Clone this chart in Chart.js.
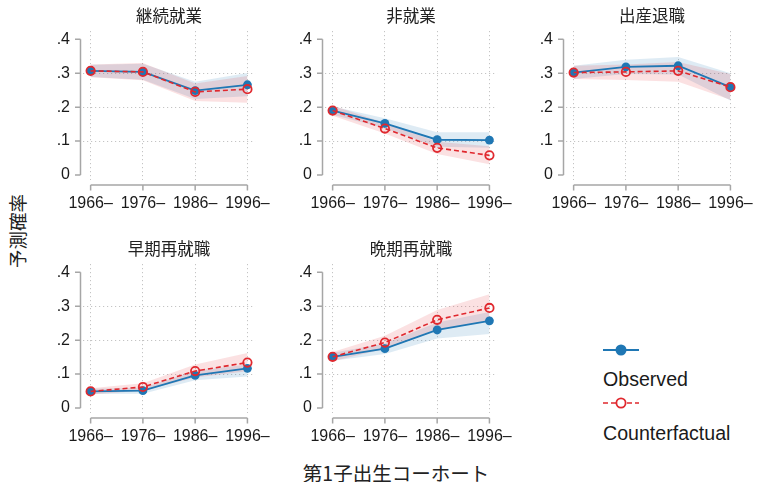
<!DOCTYPE html>
<html>
<head>
<meta charset="utf-8">
<script src="https://cdn.jsdelivr.net/npm/chart.js@4.4.1/dist/chart.umd.min.js"></script>
<style>
  html, body { margin: 0; padding: 0; background: #ffffff; }
  #wrap { position: relative; width: 762px; height: 482px; overflow: hidden; background: #fff; }
  .panel { position: absolute; }
  .ytitle {
    position: absolute; left: 17px; top: 231px;
    transform: translate(-50%, -50%) rotate(-90deg);
    font-family: "Noto Sans CJK JP", sans-serif; font-size: 18.5px; color: #222;
    white-space: nowrap;
  }
  .xtitle {
    position: absolute; left: 396px; top: 472px;
    transform: translate(-50%, -50%);
    font-family: "Noto Sans CJK JP", sans-serif; font-size: 19.5px; color: #222;
    white-space: nowrap;
  }
  .legtext {
    position: absolute; left: 603px;
    font-family: "Liberation Sans", Arial, sans-serif; font-size: 19.6px; color: #1a1a1a;
    white-space: nowrap; line-height: 1;
  }
  #legkeys { position: absolute; left: 0; top: 0; }
</style>
</head>
<body>
<div id="wrap">
  <div class="ytitle">予測確率</div>
  <div class="xtitle">第1子出生コーホート</div>
  <svg id="legkeys" width="762" height="482">
    <line x1="603" y1="350" x2="639" y2="350" stroke="#1f77b4" stroke-width="1.8"/>
    <circle cx="621" cy="350" r="5.5" fill="#1f77b4"/>
    <line x1="603" y1="403" x2="639" y2="403" stroke="#e0282e" stroke-width="1.6" stroke-dasharray="5,3"/>
    <circle cx="621" cy="403" r="4.6" fill="#ffffff" stroke="#e0282e" stroke-width="1.8"/>
  </svg>
  <div class="legtext" style="top:370px">Observed</div>
  <div class="legtext" style="top:424px">Counterfactual</div>
</div>
<script>
// Birth cohort of first child (x categories) and y tick labels
const cohorts = ['1966–', '1976–', '1986–', '1996–'];
const yTickValues = [0, 0.1, 0.2, 0.3, 0.4];
const yTickLabels = ['0', '.1', '.2', '.3', '.4'];

// Panel titles (employment trajectory types)
const panelTitles = ['継続就業', '非就業', '出産退職', '早期再就職', '晩期再就職'];

// Predicted probabilities: observed and counterfactual, with confidence bands
const obsMid = [
  [0.307, 0.304, 0.249, 0.266],
  [0.190, 0.152, 0.104, 0.103],
  [0.302, 0.319, 0.322, 0.259],
  [0.049, 0.051, 0.096, 0.117],
  [0.151, 0.175, 0.230, 0.257]
];
const obsHi = [
  [0.325, 0.328, 0.275, 0.301],
  [0.202, 0.167, 0.126, 0.126],
  [0.322, 0.340, 0.348, 0.300],
  [0.057, 0.060, 0.110, 0.128],
  [0.163, 0.190, 0.252, 0.283]
];
const obsLo = [
  [0.289, 0.281, 0.224, 0.232],
  [0.178, 0.138, 0.083, 0.080],
  [0.283, 0.298, 0.296, 0.220],
  [0.041, 0.042, 0.082, 0.093],
  [0.139, 0.159, 0.205, 0.218]
];
const cfMid = [
  [0.307, 0.304, 0.245, 0.253],
  [0.190, 0.137, 0.080, 0.058],
  [0.302, 0.304, 0.307, 0.259],
  [0.049, 0.062, 0.109, 0.134],
  [0.151, 0.193, 0.260, 0.295]
];
const cfHi = [
  [0.326, 0.330, 0.270, 0.292],
  [0.205, 0.153, 0.098, 0.085],
  [0.322, 0.326, 0.333, 0.298],
  [0.058, 0.073, 0.128, 0.162],
  [0.165, 0.213, 0.289, 0.335]
];
const cfLo = [
  [0.288, 0.279, 0.218, 0.213],
  [0.175, 0.122, 0.062, 0.032],
  [0.283, 0.280, 0.275, 0.222],
  [0.040, 0.051, 0.090, 0.108],
  [0.138, 0.175, 0.233, 0.256]
];

const BLUE = '#1f77b4';
const RED = '#e0282e';
const BLUE_BAND = 'rgba(31,119,180,0.15)';
const RED_BAND = 'rgba(227,26,28,0.13)';
const AXIS = '#a6a6a6';
const GRID = '#c4c4c4';
const NONE = 'rgba(0,0,0,0)';
const LATIN = '"Liberation Sans", Arial, sans-serif';
const CJK = '"Noto Sans CJK JP", sans-serif';

// Axis lines sit a little outside the plot region and only span the tick range
const axisLines = {
  id: 'axisLines',
  afterDraw(chart) {
    const { ctx, chartArea, scales: { x, y } } = chart;
    ctx.save();
    ctx.strokeStyle = AXIS;
    ctx.lineWidth = 1.5;
    ctx.setLineDash([]);
    ctx.beginPath();
    const ax = chartArea.left - 2.5;
    ctx.moveTo(ax, y.getPixelForValue(yTickValues[yTickValues.length - 1]));
    ctx.lineTo(ax, y.getPixelForValue(yTickValues[0]));
    yTickValues.forEach(v => {
      const py = y.getPixelForValue(v);
      ctx.moveTo(ax - 5.5, py);
      ctx.lineTo(ax, py);
    });
    const ay = chartArea.bottom + 5;
    ctx.moveTo(x.getPixelForValue(0), ay);
    ctx.lineTo(x.getPixelForValue(cohorts.length - 1), ay);
    cohorts.forEach((c, i) => {
      const px = x.getPixelForValue(i);
      ctx.moveTo(px, ay);
      ctx.lineTo(px, ay + 5.5);
    });
    ctx.stroke();
    ctx.restore();
  }
};

const toPts = arr => arr.map((v, i) => ({ x: i, y: v }));

function makePanel(idx, left, top) {
  const cv = document.createElement('canvas');
  cv.className = 'panel';
  cv.width = 245; cv.height = 220;
  cv.style.left = left + 'px';
  cv.style.top = top + 'px';
  cv.style.width = '245px'; cv.style.height = '220px';
  document.getElementById('wrap').appendChild(cv);

  new Chart(cv, {
    type: 'line',
    data: {
      datasets: [
        { data: toPts(cfMid[idx]), borderColor: RED, borderWidth: 1.6, borderDash: [5, 3],
          pointRadius: 4.2, pointBorderWidth: 1.8, pointBorderColor: RED,
          pointBackgroundColor: NONE, fill: false, tension: 0 },
        { data: toPts(obsMid[idx]), borderColor: BLUE, borderWidth: 1.8,
          pointRadius: 4.4, pointBorderWidth: 0, pointBackgroundColor: BLUE, fill: false, tension: 0 },
        { data: toPts(cfHi[idx]), borderWidth: 0, borderColor: NONE, pointRadius: 0,
          backgroundColor: RED_BAND, fill: '+1', tension: 0 },
        { data: toPts(cfLo[idx]), borderWidth: 0, borderColor: NONE, pointRadius: 0,
          fill: false, tension: 0 },
        { data: toPts(obsHi[idx]), borderWidth: 0, borderColor: NONE, pointRadius: 0,
          backgroundColor: BLUE_BAND, fill: '+1', tension: 0 },
        { data: toPts(obsLo[idx]), borderWidth: 0, borderColor: NONE, pointRadius: 0,
          fill: false, tension: 0 }
      ]
    },
    options: {
      responsive: false,
      animation: false,
      devicePixelRatio: 1,
      layout: { padding: { left: 0, right: 22, top: 0, bottom: 0 } },
      plugins: {
        legend: { display: false },
        tooltip: { enabled: false },
        title: {
          display: true, text: panelTitles[idx], fullSize: false,
          color: '#222', font: { family: CJK, size: 16.5, weight: 'normal', lineHeight: 1.2 },
          padding: { top: 6, bottom: 5.2 }
        }
      },
      scales: {
        x: {
          type: 'linear', min: -0.146, max: 3.146,
          afterBuildTicks: s => { s.ticks = cohorts.map((c, i) => ({ value: i })); },
          afterFit: s => { s.height = 40; },
          border: { display: false, dash: [1.2, 2.8] },
          grid: { drawTicks: false, color: GRID, lineWidth: 1 },
          ticks: {
            autoSkip: false, maxRotation: 0, padding: 14, color: '#1a1a1a',
            font: { family: LATIN, size: 16 },
            callback: v => cohorts[v]
          }
        },
        y: {
          min: -0.0147, max: 0.4245,
          afterBuildTicks: s => { s.ticks = yTickValues.map(v => ({ value: v })); },
          afterFit: s => { s.width = 43; },
          border: { display: false, dash: [1.2, 2.8] },
          grid: {
            drawTicks: false, lineWidth: 1,
            color: c => (c.tick && (c.tick.value === 0 || c.tick.value === 0.4)) ? NONE : GRID
          },
          ticks: {
            padding: 13, color: '#1a1a1a',
            font: { family: LATIN, size: 16 },
            callback: v => yTickLabels[yTickValues.indexOf(v)]
          }
        }
      }
    },
    plugins: [axisLines]
  });
}

const colLefts = [40, 282, 523];
const rowTops = [0, 233];
for (let i = 0; i < panelTitles.length; i++) {
  makePanel(i, colLefts[i % 3], rowTops[Math.floor(i / 3)]);
}
</script>
</body>
</html>
